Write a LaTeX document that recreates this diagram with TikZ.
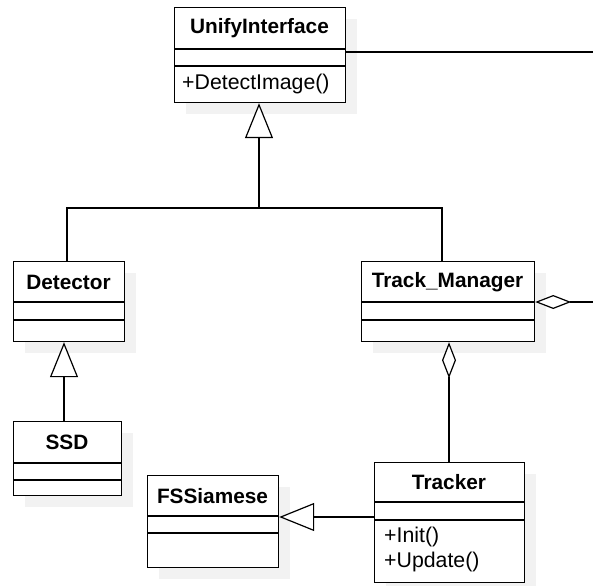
\documentclass[tikz,border=0pt]{standalone}
\usepackage{fontspec}
\setmainfont{Liberation Sans}
\usetikzlibrary{arrows.meta,shadows}
\begin{document}
\begin{tikzpicture}[x=1pt,y=-1pt,
  cls/.style={draw, line width=1.2pt, fill=white, anchor=north west, inner sep=0pt,
    drop shadow={shadow xshift=11pt, shadow yshift=-11pt, fill=black!5, opacity=1}},
  ttl/.style={font=\bfseries\fontsize{20.8}{24}\selectfont, inner sep=0pt},
  mth/.style={font=\fontsize{21.3}{24}\selectfont, anchor=west, inner sep=0pt},
  sepline/.style={line width=1.2pt},
  edgeline/.style={line width=1.2pt},
  gen/.style={edgeline, -{Triangle[open, length=35pt, width=28pt, fill=white, line width=1.2pt]}},
  agg/.style={edgeline, {Diamond[open, length=36pt, width=14pt, fill=white, line width=1.2pt]}-}
]
\useasboundingbox (0,0) rectangle (593,585);

% classes
\node[cls, minimum width=171pt, minimum height=95pt] (ui) at (174,7) {};
\node[cls, minimum width=111pt, minimum height=80pt] (det) at (13,261) {};
\node[cls, minimum width=173pt, minimum height=80pt] (tm) at (361,261) {};
\node[cls, minimum width=108pt, minimum height=74pt] (ssd) at (13,421) {};
\node[cls, minimum width=131pt, minimum height=92pt] (fs) at (147,475) {};
\node[cls, minimum width=150pt, minimum height=120pt] (tr) at (374,462) {};

% separator helper coordinates
\coordinate (y49) at (0,49);   \coordinate (y66) at (0,66);
\coordinate (y302) at (0,302); \coordinate (y320) at (0,320);
\coordinate (y463) at (0,463); \coordinate (y480) at (0,480);
\coordinate (y516) at (0,516); \coordinate (y533) at (0,533);
\coordinate (y502) at (0,502); \coordinate (y520) at (0,520);

\draw[sepline] (ui.west |- y49) -- (ui.east |- y49);
\draw[sepline] (ui.west |- y66) -- (ui.east |- y66);
\draw[sepline] (det.west |- y302) -- (det.east |- y302);
\draw[sepline] (det.west |- y320) -- (det.east |- y320);
\draw[sepline] (tm.west |- y302) -- (tm.east |- y302);
\draw[sepline] (tm.west |- y320) -- (tm.east |- y320);
\draw[sepline] (ssd.west |- y463) -- (ssd.east |- y463);
\draw[sepline] (ssd.west |- y480) -- (ssd.east |- y480);
\draw[sepline] (fs.west |- y516) -- (fs.east |- y516);
\draw[sepline] (fs.west |- y533) -- (fs.east |- y533);
\draw[sepline] (tr.west |- y502) -- (tr.east |- y502);
\draw[sepline] (tr.west |- y520) -- (tr.east |- y520);

% titles
\node[ttl] (uit) at (259.5,28) {UnifyInterface};
\node[ttl] (dett) at (68.5,282) {Detector};
\node[ttl] (tmt) at (447.5,282) {Track\_Manager};
\node[ttl] (ssdt) at (67,442) {SSD};
\node[ttl] (fst) at (212.5,496) {FSSiamese};
\node[ttl] (trt) at (449,482) {Tracker};

% methods
\node[mth] (uim) at (182,84) {+DetectImage()};
\node[mth] (trm1) at (384,537) {+Init()};
\node[mth] (trm2) at (384,562) {+Update()};

% connectors
\coordinate (j) at (259,208);
\coordinate (detx) at (67,0);
\coordinate (tmx) at (442,0);
\coordinate (ssdx) at (64,0);
\coordinate (y517) at (0,517);
\coordinate (trx) at (449,0);
\coordinate (e1) at (593,52);
\coordinate (e2) at (593,302);

\draw[edgeline] (det.north -| detx) |- (j);
\draw[edgeline] (tm.north -| tmx) |- (j);
\draw[gen] (j) -- (j |- ui.south);
\draw[gen] (ssd.north -| ssdx) -- (det.south -| ssdx);
\draw[gen] (tr.west |- y517) -- (fs.east |- y517);
\draw[agg] (tm.south -| trx) -- (tr.north -| trx);
\draw[edgeline] (ui.east |- e1) -- (e1);
\draw[agg] (tm.east |- e2) -- (e2);
\end{tikzpicture}
\end{document}
